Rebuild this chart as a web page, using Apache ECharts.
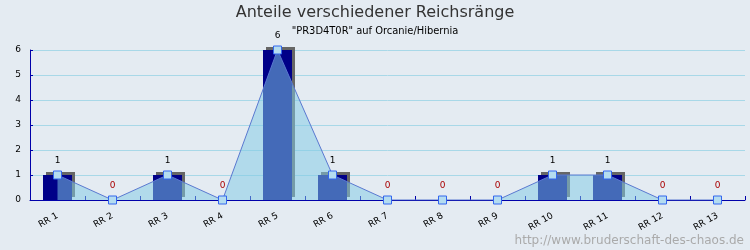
<!DOCTYPE html>
<html><head><meta charset="utf-8">
<script src="https://cdn.jsdelivr.net/npm/echarts@6/dist/echarts.min.js"></script>
<style>html,body{margin:0;padding:0;background:#e4ebf2;}#c{width:750px;height:250px;}</style>
</head><body><div id="c"></div>
<script>
const categories = ['RR 1','RR 2','RR 3','RR 4','RR 5','RR 6','RR 7','RR 8','RR 9','RR 10','RR 11','RR 12','RR 13'];
const values = [1,0,1,0,6,1,0,0,0,1,1,0,0];
const yTicks = [0,1,2,3,4,5,6];
const titleText = 'Anteile verschiedener Reichsränge';
const subtitleText = '"PR3D4T0R" auf Orcanie/Hibernia';
const watermark = 'http://www.bruderschaft-des-chaos.de';

const chart = echarts.init(document.getElementById('c'), null, {renderer:'canvas'});
const font = 'DejaVu Sans';
chart.setOption({
  backgroundColor: '#e4ebf2',
  animation: false,
  title: {
    text: titleText, subtext: subtitleText, left: 'center', top: 0, itemGap: 5,
    textStyle: {fontFamily: font, fontSize: 16, fontWeight: 'normal', color: '#333'},
    subtextStyle: {fontFamily: 'DejaVu Sans Condensed', fontSize: 11, color: '#000'}
  },
  graphic: [{
    type: 'text', right: 6, bottom: 3,
    style: {text: watermark, fontFamily: font, fontSize: 12, fill: '#aaaaaa'}
  }],
  grid: {left: 30, right: 5, top: 50, bottom: 50},
  xAxis: {
    type: 'category', data: categories, boundaryGap: true,
    axisLine: {lineStyle: {color: '#0000aa', width: 1}},
    axisTick: {show: true, inside: true, length: 4, lineStyle: {color: '#0000aa'}},
    axisLabel: {rotate: 30, margin: 15, fontFamily: font, fontSize: 9, color: '#000', interval: 0}
  },
  yAxis: {
    type: 'value', min: 0, max: 6, interval: 1,
    axisLine: {show: true, lineStyle: {color: '#0000aa'}},
    axisTick: {show: true, inside: true, length: 3, lineStyle: {color: '#0000aa'}},
    axisLabel: {fontFamily: font, fontSize: 9, color: '#000', margin: 9},
    splitLine: {lineStyle: {color: '#a8d8e8', width: 1}}
  },
  series: [
    {
      type: 'bar', data: values, barWidth: 29, z: 1,
      itemStyle: {color: '#000088', shadowColor: '#666666', shadowOffsetX: 3, shadowOffsetY: -3, shadowBlur: 0}
    },
    {
      type: 'line', data: values, z: 3,
      symbol: 'rect', symbolSize: 8,
      lineStyle: {color: '#5a78d0', width: 1},
      itemStyle: {color: '#b4dcf0', borderColor: '#3366ee', borderWidth: 1},
      areaStyle: {color: 'rgba(131,204,229,0.52)', opacity: 1, origin: 'start'},
      label: {
        show: true, position: 'top', distance: 5, fontFamily: font, fontSize: 9,
        formatter: p => p.value === 0 ? '{z|0}' : '{n|' + p.value + '}',
        rich: {z: {color: '#aa0000', fontFamily: font, fontSize: 9}, n: {color: '#000', fontFamily: font, fontSize: 9}}
      }
    }
  ]
});
</script></body></html>
